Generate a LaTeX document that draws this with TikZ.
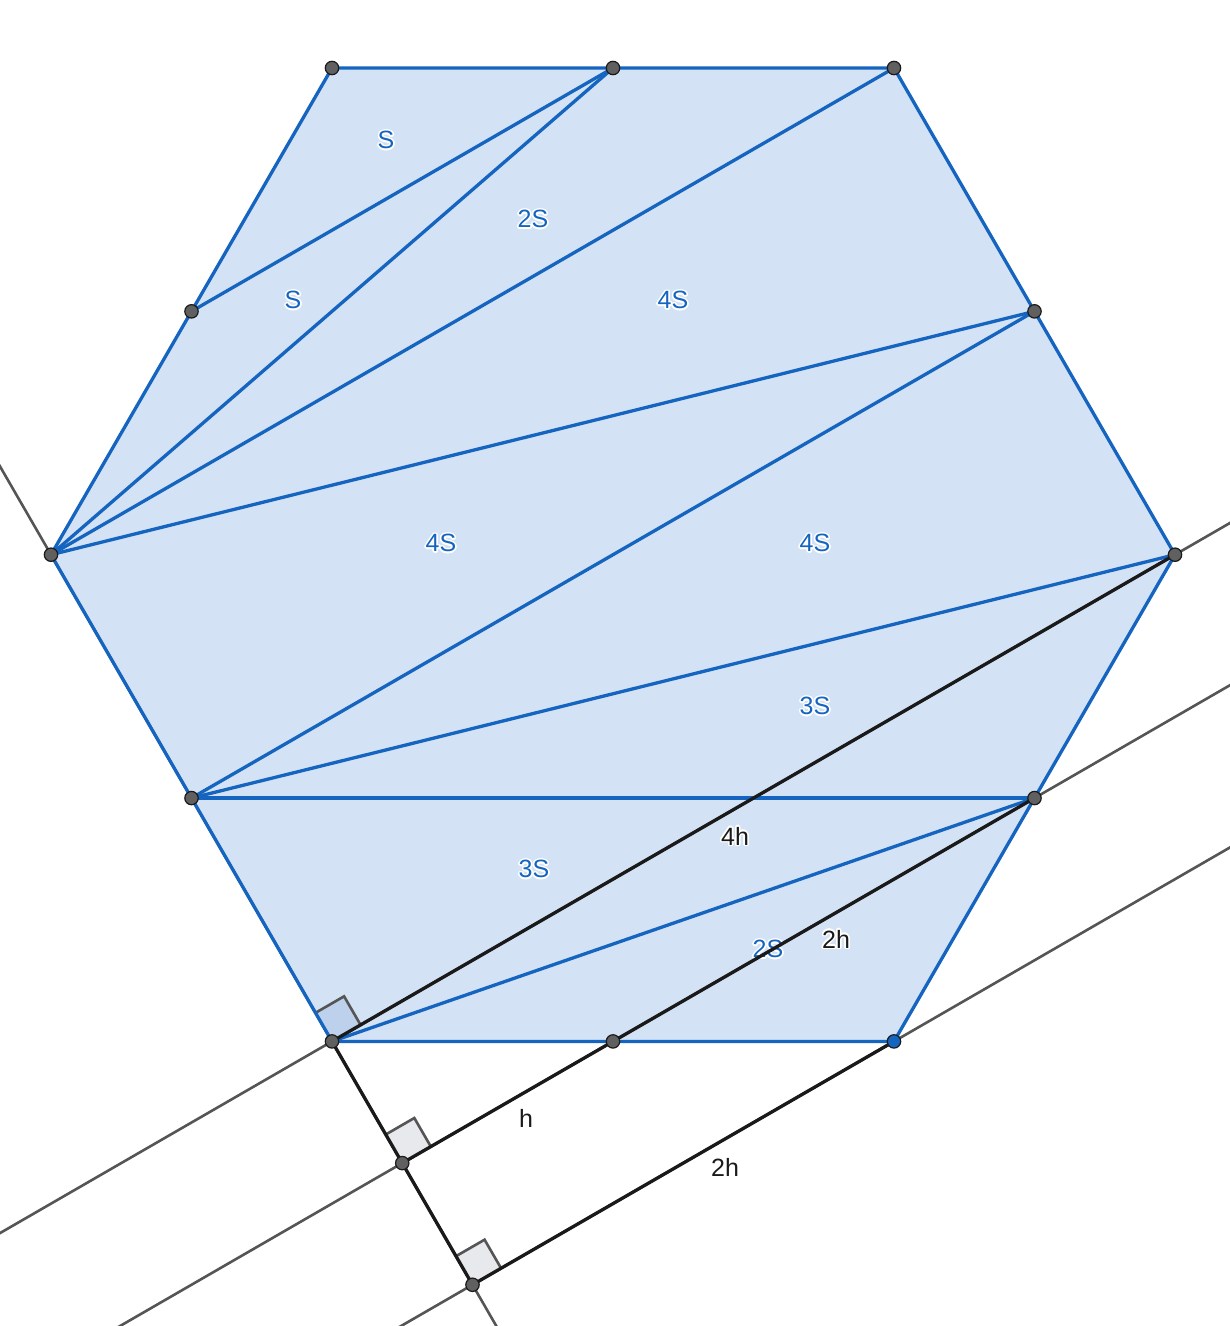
\documentclass[tikz,border=0pt]{standalone}
\usepackage{fontspec}
\setmainfont{Liberation Sans}
\usepackage{contour}
\contourlength{1.6pt}
\usetikzlibrary{calc}
\definecolor{gblue}{HTML}{1565C0}
\definecolor{gfill}{HTML}{D3E2F4}
\definecolor{gblack}{HTML}{1A1A1A}
\definecolor{ggray}{HTML}{555555}
\definecolor{gpt}{HTML}{606060}
\definecolor{gmark}{HTML}{E8E9ED}
\definecolor{gmarkb}{HTML}{BDD0EC}
\tikzset{
  blueline/.style={draw=gblue, line width=3.3pt, line cap=round, line join=round},
  blackline/.style={draw=gblack, line width=3.3pt, line cap=round},
  grayline/.style={draw=ggray, line width=2.6pt},
  marksq/.style={draw=ggray, line width=2.6pt},
  bluelbl/.style={text=gblue, font=\fontsize{25}{29}\selectfont, inner sep=0pt},
  blacklbl/.style={text=gblack, font=\fontsize{25}{29}\selectfont, inner sep=0pt},
  ptdot/.style={fill=gpt, draw=gblack, line width=1.2pt},
  ptblue/.style={fill=gblue, draw=gblack, line width=1.2pt}
}
\begin{document}
\begin{tikzpicture}[x=1pt,y=-1pt]
\useasboundingbox (0,0) rectangle (1230,1326);
% hexagon vertices
\coordinate (A) at (332,68);
\coordinate (B) at (894,68);
\coordinate (C) at (1175,554.7);
\coordinate (D) at (894,1041.4);
\coordinate (E) at (332,1041.4);
\coordinate (F) at (51,554.7);
% midpoints
\coordinate (M1) at ($(A)!0.5!(B)$);
\coordinate (M2) at ($(B)!0.5!(C)$);
\coordinate (M3) at ($(C)!0.5!(D)$);
\coordinate (M4) at ($(D)!0.5!(E)$);
\coordinate (M5) at ($(E)!0.5!(F)$);
\coordinate (M6) at ($(F)!0.5!(A)$);
% feet on the perpendicular
\coordinate (P) at ($(E)!-0.25!(F)$);
\coordinate (Q) at ($(E)!-0.5!(F)$);
% fill
\fill[gfill] (A) -- (B) -- (C) -- (D) -- (E) -- (F) -- cycle;
% infinite gray lines
\begin{scope}
\clip (0,0) rectangle (1230,1326);
\draw[grayline] ($(F)!-2!(E)$) -- ($(F)!3!(E)$);
\draw[grayline] ($(E)!-1!(C)$) -- ($(E)!2!(C)$);
\draw[grayline] ($(P)!-1!(M3)$) -- ($(P)!3!(M3)$);
\draw[grayline] ($(Q)!-1!(D)$) -- ($(Q)!4!(D)$);
\end{scope}
% right-angle marks
\coordinate (e1) at ($(E)!33pt!(F)$);
\coordinate (e2) at ($(E)!33pt!(C)$);
\coordinate (e3) at ($(e1)+(e2)-(E)$);
\fill[gmarkb] (E) -- (e1) -- (e3) -- (e2) -- cycle;
\draw[marksq] (e1) -- (e3) -- (e2);
\coordinate (p1) at ($(P)!33pt!(E)$);
\coordinate (p2) at ($(P)!33pt!(M3)$);
\coordinate (p3) at ($(p1)+(p2)-(P)$);
\fill[gmark] (P) -- (p1) -- (p3) -- (p2) -- cycle;
\draw[marksq] (p1) -- (p3) -- (p2);
\coordinate (q1) at ($(Q)!33pt!(P)$);
\coordinate (q2) at ($(Q)!33pt!(D)$);
\coordinate (q3) at ($(q1)+(q2)-(Q)$);
\fill[gmark] (Q) -- (q1) -- (q3) -- (q2) -- cycle;
\draw[marksq] (q1) -- (q3) -- (q2);
% blue segments
\draw[blueline] (A) -- (B) -- (C) -- (D) -- (E) -- (F) -- cycle;
\draw[blueline] (M6) -- (M1);
\draw[blueline] (F) -- (M1);
\draw[blueline] (F) -- (B);
\draw[blueline] (F) -- (M2);
\draw[blueline] (M5) -- (M2);
\draw[blueline] (M5) -- (C);
\draw[blueline] (M5) -- (M3);
\draw[blueline] (E) -- (M3);
% area labels
\node[bluelbl] (s1) at (386,141) {\contour{white}{S}};
\node[bluelbl] (s2) at (533,220) {\contour{white}{2S}};
\node[bluelbl] (s3) at (293,301) {\contour{white}{S}};
\node[bluelbl] (s4) at (673,301) {\contour{white}{4S}};
\node[bluelbl] (s5) at (441,544) {\contour{white}{4S}};
\node[bluelbl] (s6) at (815,544) {\contour{white}{4S}};
\node[bluelbl] (s7) at (815,707) {\contour{white}{3S}};
\node[bluelbl] (s8) at (534,870) {\contour{white}{3S}};
\node[bluelbl] (s9) at (768,950) {\contour{white}{2S}};
% black segments
\draw[blackline] (E) -- (C);
\draw[blackline] (P) -- (M3);
\draw[blackline] (Q) -- (D);
\draw[blackline] (E) -- (Q);
% length labels
\node[blacklbl] (h1) at (735,837) {\contour{white}{4h}};
\node[blacklbl] (h2) at (836,940) {\contour{white}{2h}};
\node[blacklbl] (h3) at (526,1118) {h};
\node[blacklbl] (h4) at (725,1167) {2h};
% points
\foreach \p in {A,M1,B,M2,C,M3,M4,E,M5,F,M6,P,Q}
  \draw[ptdot] (\p) circle[radius=6.7pt];
\draw[ptblue] (D) circle[radius=6.7pt];
\end{tikzpicture}
\end{document}
